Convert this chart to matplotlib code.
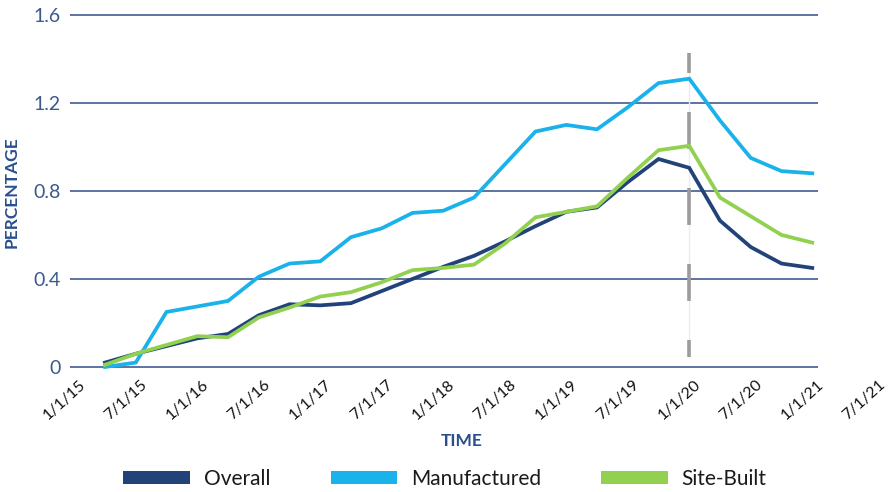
import matplotlib
matplotlib.use("Agg")
import matplotlib.pyplot as plt
import matplotlib.transforms as mtransforms
from matplotlib.patches import Patch

plt.rcParams["font.family"] = ["Lato", "DejaVu Sans"]
plt.rcParams["lines.scale_dashes"] = False

# quarterly readings, 4/1/15 .. 1/1/21 (as decimal years)
quarters = [2015.25 + 0.25 * i for i in range(24)]

overall = [0.02, 0.06, 0.095, 0.13, 0.15, 0.235, 0.285, 0.28, 0.29, 0.345, 0.40, 0.455,
           0.505, 0.57, 0.64, 0.705, 0.725, 0.84, 0.945, 0.905, 0.665, 0.545, 0.47, 0.45]
manufactured = [0.00, 0.02, 0.25, 0.275, 0.30, 0.41, 0.47, 0.48, 0.59, 0.63, 0.70, 0.71,
                0.77, 0.92, 1.07, 1.10, 1.08, 1.18, 1.29, 1.31, 1.12, 0.95, 0.89, 0.88]
site_built = [0.01, 0.06, 0.10, 0.14, 0.135, 0.225, 0.27, 0.32, 0.34, 0.385, 0.44, 0.45,
              0.465, 0.56, 0.68, 0.705, 0.73, 0.86, 0.985, 1.005, 0.77, 0.685, 0.60, 0.565]

tick_dates = [2015.0 + 0.5 * k for k in range(14)]
tick_labels = ["1/1/15", "7/1/15", "1/1/16", "7/1/16", "1/1/17", "7/1/17", "1/1/18",
               "7/1/18", "1/1/19", "7/1/19", "1/1/20", "7/1/20", "1/1/21", "7/1/21"]
y_ticks = [0, 0.4, 0.8, 1.2, 1.6]
y_labels = ["0", "0.4", "0.8", "1.2", "1.6"]

marker_date = 2020.0  # 1/1/20

series = [
    ("Overall", overall, "#22427a"),
    ("Manufactured", manufactured, "#1ab2ea"),
    ("Site-Built", site_built, "#92d050"),
]

fig = plt.figure(figsize=(8.89, 4.92), dpi=100)
ax = fig.add_axes([0.07874, 0.2407, 0.92126, 0.7492])
ax.set_xlim(2014.9654, 2021.624)
ax.set_ylim(-0.03, 1.645)

for s in ax.spines.values():
    s.set_visible(False)

# horizontal rules only across the plotted period
ax.hlines(y_ticks, 2014.9654, quarters[-1] + 0.05, color="#3f5c90", lw=1.2, zorder=1)

# 1/1/20 marker
ax.plot([marker_date, marker_date], [0.045, 1.427], color="#ececec", lw=1, zorder=2)
ax.plot([marker_date, marker_date], [1.427, 0.045], color="#9c9c9c", lw=2.6,
        linestyle=(12.2, (26.6, 28.1)), zorder=2)

for name, vals, col in series:
    ax.plot(quarters, vals, color=col, lw=2.7, solid_joinstyle="miter", zorder=3, clip_on=False)

ax.set_yticks(y_ticks)
ax.set_yticklabels(y_labels, fontsize=14, color="#3a5a8e")
ax.tick_params(axis="y", length=0, pad=7)

ax.set_xticks(tick_dates)
ax.set_xticklabels(tick_labels, rotation=42, ha="right", va="top", fontsize=11.5, color="#111111")
ax.tick_params(axis="x", length=0, pad=3)
shift = mtransforms.ScaledTranslation(14 / 100, 0, fig.dpi_scale_trans)
for lab in ax.get_xticklabels():
    lab.set_transform(lab.get_transform() + shift)

fig.text(12 / 889, 1 - 192 / 492, "PERCENTAGE", rotation=90, ha="center", va="center",
         fontsize=12.5, fontweight="bold", color="#2a4f8f")
fig.text(462 / 889, 1 - 441 / 492, "TIME", ha="center", va="center",
         fontsize=12.5, fontweight="bold", color="#2a4f8f")

handles = [Patch(facecolor=col, edgecolor="none", label=name) for name, _, col in series]
fig.legend(handles=handles, loc="center", bbox_to_anchor=(445 / 889, 1 - 479 / 492),
           ncol=3, frameon=False, fontsize=15, handlelength=3.2, handleheight=0.58,
           handletextpad=0.65, columnspacing=2.9, labelcolor="#1a1a1a")

fig.savefig("out.png", dpi=100)
